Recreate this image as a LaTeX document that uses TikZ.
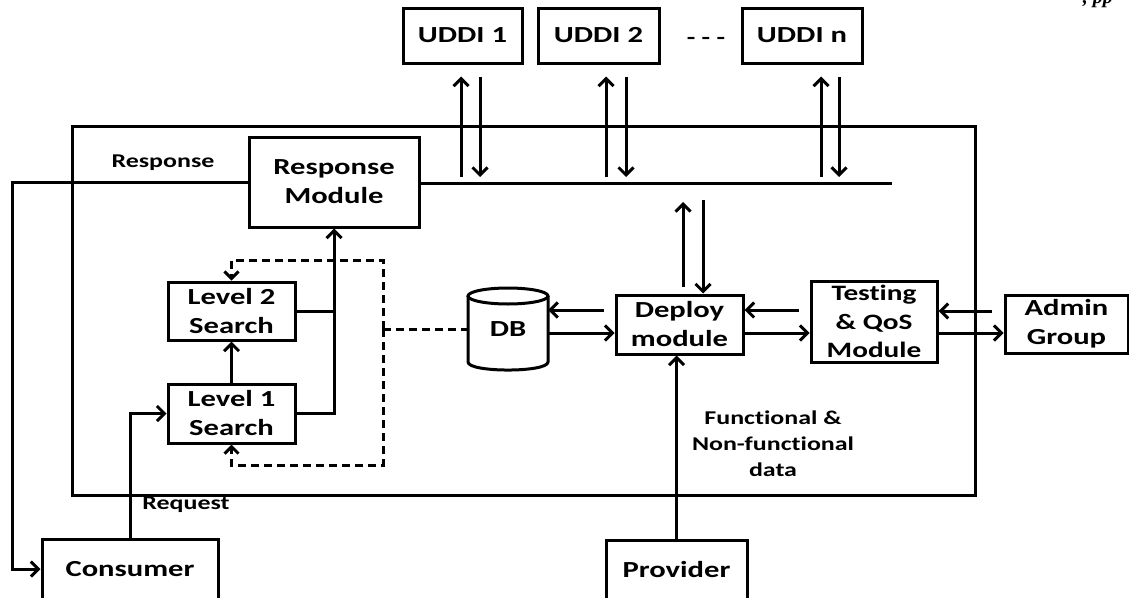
\documentclass[tikz,border=0pt]{standalone}
\usepackage{fontspec}
\setmainfont{Carlito}[FakeStretch=1.33, Ligatures=NoCommon]
\newfontfamily\capfont{Liberation Serif}
\usetikzlibrary{arrows.meta,calc}
\tikzset{
  box/.style={draw, line width=3pt, align=center, inner sep=0pt,
    font=\bfseries\fontsize{23}{29}\selectfont},
  lab/.style={align=center, inner sep=0pt, font=\bfseries\fontsize{19.5}{26}\selectfont},
  conn/.style={line width=3pt},
  arr/.style={line width=3pt, -{Straight Barb[length=7.5pt,width=15pt]}},
  darr/.style={line width=3pt, dash pattern=on 8pt off 5pt, -{Straight Barb[length=7pt,width=14pt]}},
  dline/.style={line width=3pt, dash pattern=on 8pt off 5pt},
}
\begin{document}
\begin{tikzpicture}[x=1pt,y=-1pt]
\useasboundingbox (0,0) rectangle (1129,597);
\clip (0,0) rectangle (1129,597);
% caption fragment
\node[anchor=base east, inner sep=0pt, font=\capfont\bfseries\itshape\fontsize{20}{20}\selectfont] (cap) at (1113,3) {, pp};
% main frame
\node[draw, line width=3pt, minimum width=903pt, minimum height=369pt, inner sep=0pt] (main) at (523.5,310.5) {};
% UDDI boxes
\node[box, minimum width=119pt, minimum height=55pt] (uddi1) at (462.5,35.5) {UDDI 1};
\node[box, minimum width=121pt, minimum height=55pt] (uddi2) at (598.5,35.5) {UDDI 2};
\node[box, minimum width=120pt, minimum height=55pt] (uddin) at (802,35.5) {UDDI n};
\node[lab, font=\bfseries\fontsize{21}{21}\selectfont] (dots) at (706,41) {- - -};
% modules
\node[box, minimum width=170pt, minimum height=90pt] (resp) at (334,182) {Response\\Module};
\node[box, minimum width=127pt, minimum height=58pt] (lvl2) at (231.5,311) {Level 2\\Search};
\node[box, minimum width=127pt, minimum height=59pt] (lvl1) at (231.5,413.5) {Level 1\\Search};
\node[box, minimum width=127pt, minimum height=59pt] (deploy) at (679.5,324.5) {Deploy\\module};
\node[box, minimum width=126pt, minimum height=81pt, font=\bfseries\fontsize{22}{28.5}\selectfont] (test) at (874,321.5) {Testing\\\& QoS\\Module};
\node[box, minimum width=123pt, minimum height=58pt] (admin) at (1066.5,324) {Admin\\Group};
\node[box, minimum width=176pt, minimum height=60pt] (consumer) at (130,569) {Consumer};
\node[box, minimum width=141pt, minimum height=60pt] (provider) at (676.5,570) {Provider};
% DB cylinder
\node[minimum width=80pt, minimum height=82pt, inner sep=0pt, font=\bfseries\fontsize{23}{29}\selectfont] (db) at (508,329) {\raisebox{-6pt}{DB}};
\draw[conn] (468,296) -- (468,362) .. controls (468,372.7) and (548,372.7) .. (548,362) -- (548,296);
\draw[conn] (508,296) ellipse [x radius=40, y radius=8];
% labels
\node[lab] (lresp) at (163,163) {Response};
\node[lab] (lreq) at (186,505) {Request};
\node[lab] (lfun) at (773,444) {Functional \&\\Non-functional\\data};
% bus
\coordinate (busR) at (892,183);
\draw[conn] (resp.east |- busR) -- (busR);
% UDDI arrows
\draw[arr] (461,177) -- ([xshift=-1.5pt,yshift=-12pt]uddi1.south);
\draw[arr] ([xshift=17.5pt,yshift=-12pt]uddi1.south) -- (480,177);
\draw[arr] (606,177) -- ([xshift=7.5pt,yshift=-12pt]uddi2.south);
\draw[arr] ([xshift=27.5pt,yshift=-12pt]uddi2.south) -- (626,177);
\draw[arr] (821,177) -- ([xshift=19pt,yshift=-12pt]uddin.south);
\draw[arr] ([xshift=37pt,yshift=-12pt]uddin.south) -- (839,177);
% deploy up/down
\draw[arr] ([xshift=3.5pt,yshift=7pt]deploy.north) -- (683,202);
\draw[arr] (703,200) -- ([xshift=23.5pt]deploy.north);
% response to consumer
\draw[arr] (resp.west) -- (12,182) |- (consumer.west);
% request
\draw[arr] (consumer.north) |- (lvl1.west);
% search chain
\draw[arr] (lvl1.north) -- (lvl2.south);
\draw[conn] (lvl2.east) -- (lvl2.east -| resp.south);
\draw[arr] (lvl1.east) -| (resp.south);
% dashed
\coordinate (dj) at (383,329);
\draw[dline] (dj) -- (db.west);
\draw[darr] (dj) -- (383,260) -| (lvl2.north);
\draw[darr] (dj) -- (383,465) -| (lvl1.south);
% db <-> deploy
\draw[arr] ([xshift=-11pt,yshift=14.5pt]deploy.west) -- ([yshift=19pt]db.east);
\draw[arr] ([yshift=-4pt]db.east) -- ([yshift=-8.5pt]deploy.west);
% deploy <-> test
\draw[arr] ([yshift=-8.5pt]deploy.east) -- ([yshift=-11.5pt]test.west);
\draw[arr] ([xshift=-11pt,yshift=11.5pt]test.west) -- ([yshift=14.5pt]deploy.east);
% test <-> admin
\draw[arr] ([xshift=-12pt,yshift=13pt]admin.west) -- ([yshift=10.5pt]test.east);
\draw[arr] ([yshift=-11.5pt]test.east) -- ([yshift=-9pt]admin.west);
% provider
\draw[arr] (provider.north) -- (provider.north |- deploy.south);
\end{tikzpicture}
\end{document}
